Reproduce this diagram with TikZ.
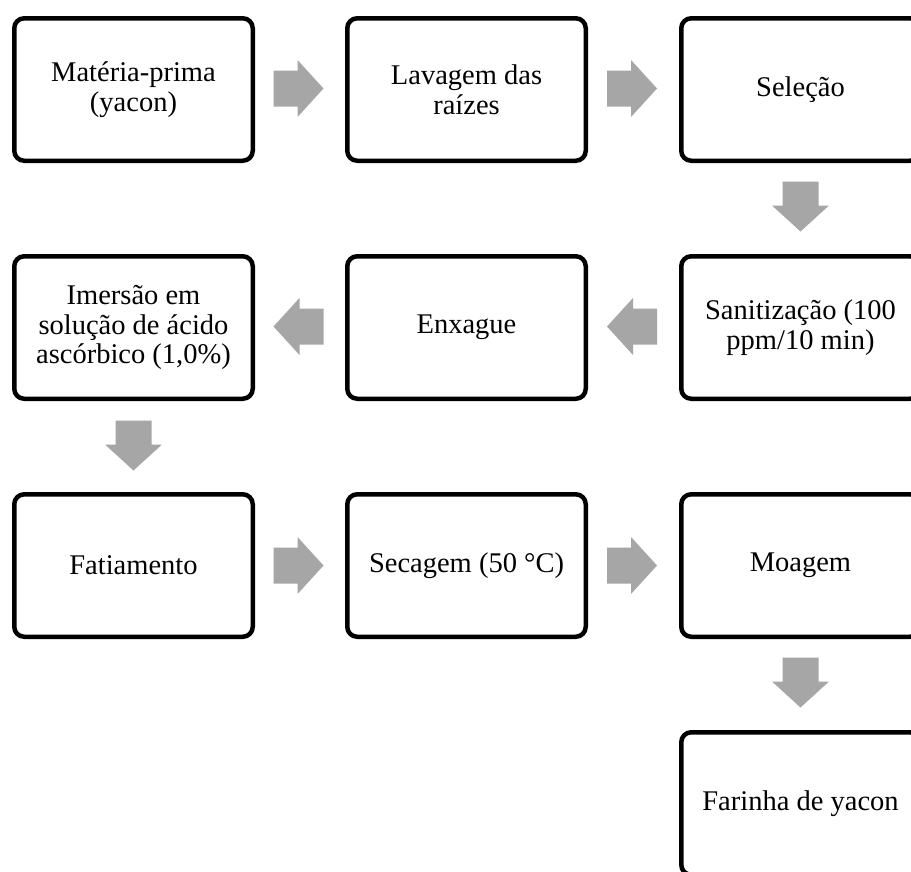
\documentclass[tikz,border=0pt]{standalone}
\usepackage{fontspec}
\setmainfont{Liberation Serif}
\usetikzlibrary{calc}
\definecolor{arrowgray}{RGB}{166,166,166}
\tikzset{
  procbox/.style={draw=black, line width=4.5pt, rounded corners=10pt, fill=white,
    minimum width=238.5pt, minimum height=142.5pt, inner sep=0pt, align=center,
    font=\fontsize{28.5}{29.5}\selectfont},
  blockarrow/.pic={\fill[arrowgray] (-25,18) -- (-1,18) -- (-1,28.5) -- (25,0) -- (-1,-28.5) -- (-1,-18) -- (-25,-18) -- cycle;}
}
\begin{document}
\begin{tikzpicture}[x=1pt,y=1pt]
\clip (0,0) rectangle (911,-871);
\fill[white] (0,0) rectangle (911,-871);
% row 1
\node[procbox] (n1) at (133.5,-89.5) {Matéria-prima\\(yacon)};
\node[procbox] (n2) at (466.5,-89.5) {Lavagem das\\raízes};
\node[procbox] (n3) at (800.5,-89.5) {Seleção};
% row 2
\node[procbox] (n4) at (800.5,-327.5) {Sanitização (100\\ppm/10 min)};
\node[procbox] (n5) at (466.5,-327.5) {Enxague};
\node[procbox] (n6) at (133.5,-327.5) {Imersão em\\solução de ácido\\ascórbico (1,0\%)};
% row 3
\node[procbox] (n7) at (133.5,-565.5) {Fatiamento};
\node[procbox] (n8) at (466.5,-565.5) {Secagem (50 °C)};
\node[procbox] (n9) at (800.5,-565.5) {Moagem};
% row 4
\node[procbox] (n10) at (800.5,-803.5) {Farinha de yacon};
% block arrows between nodes
\pic at ($(n1.east)!0.5!(n2.west)+(-1.5,1)$) {blockarrow};
\pic at ($(n2.east)!0.5!(n3.west)+(-1.5,1)$) {blockarrow};
\pic[rotate=-90] at ($(n3.south)!0.5!(n4.north)+(0,2)$) {blockarrow};
\pic[rotate=180] at ($(n4.west)!0.5!(n5.east)+(-1.5,1)$) {blockarrow};
\pic[rotate=180] at ($(n5.west)!0.5!(n6.east)+(-1.5,1)$) {blockarrow};
\pic[rotate=-90] at ($(n6.south)!0.5!(n7.north)+(0,1)$) {blockarrow};
\pic at ($(n7.east)!0.5!(n8.west)+(-1.5,0)$) {blockarrow};
\pic at ($(n8.east)!0.5!(n9.west)+(-1.5,0)$) {blockarrow};
\pic[rotate=-90] at ($(n9.south)!0.5!(n10.north)+(0,2)$) {blockarrow};
\end{tikzpicture}
\end{document}
